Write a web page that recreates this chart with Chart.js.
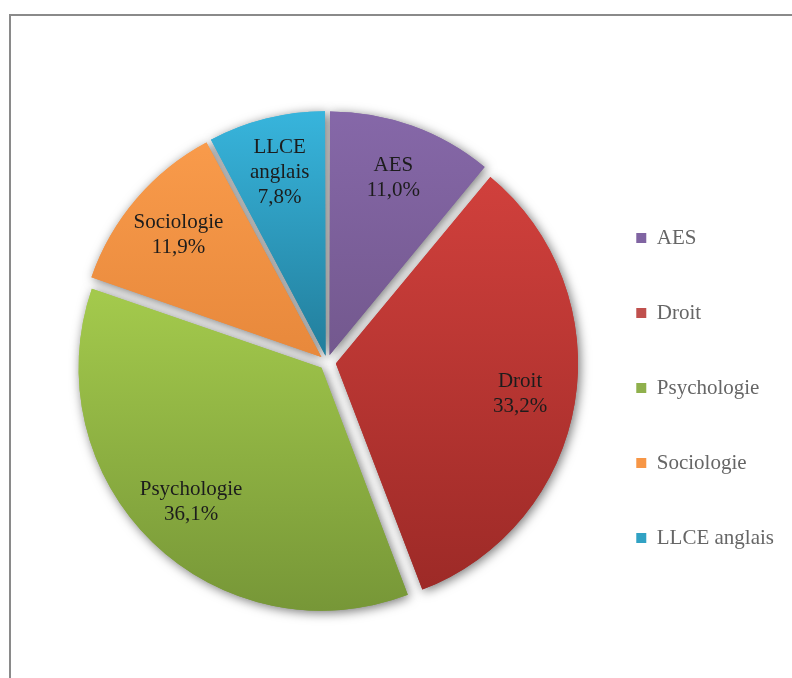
<!DOCTYPE html>
<html>
<head>
<meta charset="utf-8">
<script src="https://cdn.jsdelivr.net/npm/chart.js@4"></script>
<style>
  html, body { margin: 0; padding: 0; background: #fff; overflow: hidden; }
  #wrap { position: relative; width: 792px; height: 678px; }
  #frame { position: absolute; left: 9px; top: 14px; width: 900px; height: 900px;
           border: 2px solid #8a8a8a; box-sizing: border-box; pointer-events: none; }
  canvas { position: absolute; left: 0; top: 0; }
</style>
</head>
<body>
<div id="wrap">
  <div id="frame"></div>
  <canvas id="pie" width="792" height="678"></canvas>
</div>
<script>
const categories = ['AES', 'Droit', 'Psychologie', 'Sociologie', 'LLCE anglais'];
const shares = [11.0, 33.2, 36.1, 11.9, 7.8];

// couleurs : haut / bas du dégradé de chaque part
const topColors = ['#8668a9', '#d0403c', '#a3c94c', '#f99b4b', '#38b6de'];
const bottomColors = ['#74598f', '#9d2a27', '#769637', '#e8893c', '#23809e'];
const legendColors = ['#8064a2', '#c0504d', '#8fb04c', '#f79646', '#31a2c4'];

const FONT = '"Liberation Serif", "Times New Roman", serif';
const RADIUS = 241, OFFSET = 10;

const fmtPct = v => v.toFixed(1).replace('.', ',') + '%';
const total = shares.reduce((s, v) => s + v, 0);

// Chart.js v4 déplace une part de offset/4 * (1 + fix) : on compense pour avoir OFFSET px partout
function sliceOffset(ctx) {
  const i = ctx.dataIndex;
  if (i === undefined) return OFFSET * 4;
  const circ = 2 * Math.PI * shares[i] / total;
  const fix = 1 - Math.sin(Math.min(Math.PI, circ));
  return OFFSET * 4 / (1 + fix);
}

// dégradé vertical calé sur la boîte englobante de la part
function sliceGradient(ctx) {
  const i = ctx.dataIndex;
  const chart = ctx.chart;
  const area = chart.chartArea;
  if (!area || i === undefined) return legendColors[i || 0];
  let a0 = -Math.PI / 2;
  for (let k = 0; k < i; k++) a0 += 2 * Math.PI * shares[k] / total;
  const a1 = a0 + 2 * Math.PI * shares[i] / total;
  const mid = (a0 + a1) / 2;
  const cx = (area.left + area.right) / 2 + Math.cos(mid) * OFFSET;
  const cy = (area.top + area.bottom) / 2 + Math.sin(mid) * OFFSET;
  const ys = [cy, cy + Math.sin(a0) * RADIUS, cy + Math.sin(a1) * RADIUS];
  [Math.PI / 2, 3 * Math.PI / 2, -Math.PI / 2].forEach(a => { if (a > a0 && a < a1) ys.push(cy + Math.sin(a) * RADIUS); });
  const g = chart.ctx.createLinearGradient(0, Math.min(...ys), 0, Math.max(...ys));
  g.addColorStop(0, topColors[i]);
  g.addColorStop(1, bottomColors[i]);
  return g;
}

// ombre douce autour des parts, dessinée avant les parts elles-mêmes
const shadowPlugin = {
  id: 'sliceShadow',
  beforeDatasetDraw(chart, args) {
    const ctx = chart.ctx;
    ctx.save();
    ctx.shadowColor = 'rgba(0,0,0,0.55)';
    ctx.shadowBlur = 11;
    ctx.shadowOffsetX = 2;
    ctx.shadowOffsetY = 2;
    args.meta.data.forEach(a => a.draw(ctx));
    ctx.restore();
  }
};

const labelPlugin = {
  id: 'sliceLabels',
  afterDatasetsDraw(chart) {
    const ctx = chart.ctx;
    const meta = chart.getDatasetMeta(0);
    ctx.save();
    ctx.font = '21px ' + FONT;
    ctx.fillStyle = '#1c1c1c';
    ctx.textAlign = 'center';
    ctx.textBaseline = 'middle';
    meta.data.forEach((arc, i) => {
      const { x, y, startAngle, endAngle, outerRadius } = arc.getProps(['x', 'y', 'startAngle', 'endAngle', 'outerRadius'], true);
      const mid = (startAngle + endAngle) / 2;
      const d = OFFSET + outerRadius * 0.77;
      const px = x + Math.cos(mid) * d, py = y + Math.sin(mid) * d;
      const lines = categories[i].split(' ').concat(fmtPct(shares[i]));
      const lh = 25;
      lines.forEach((t, k) => ctx.fillText(t, px, py + (k - (lines.length - 1) / 2) * lh));
    });
    ctx.restore();
  }
};

new Chart(document.getElementById('pie').getContext('2d'), {
  type: 'pie',
  data: {
    labels: categories,
    datasets: [{
      data: shares,
      backgroundColor: sliceGradient,
      borderWidth: 0,
      offset: sliceOffset,
      hoverOffset: 0
    }]
  },
  options: {
    responsive: false,
    animation: false,
    events: [],
    radius: RADIUS,
    layout: { padding: { left: 72, right: 8, top: 60, bottom: 14 } },
    plugins: {
      tooltip: { enabled: false },
      legend: {
        position: 'right',
        align: 'center',
        title: { display: true, text: ' ', font: { size: 10 }, padding: { top: 20, bottom: 20 } },
        labels: {
          boxWidth: 10,
          boxHeight: 10,
          padding: 54,
          color: '#1c1c1c',
          font: { family: FONT, size: 21 },
          generateLabels: chart => categories.map((c, i) => ({
            text: c,
            fillStyle: legendColors[i],
            strokeStyle: legendColors[i],
            lineWidth: 0,
            hidden: false,
            index: i
          }))
        }
      }
    }
  },
  plugins: [shadowPlugin, labelPlugin]
});
</script>
</body>
</html>
